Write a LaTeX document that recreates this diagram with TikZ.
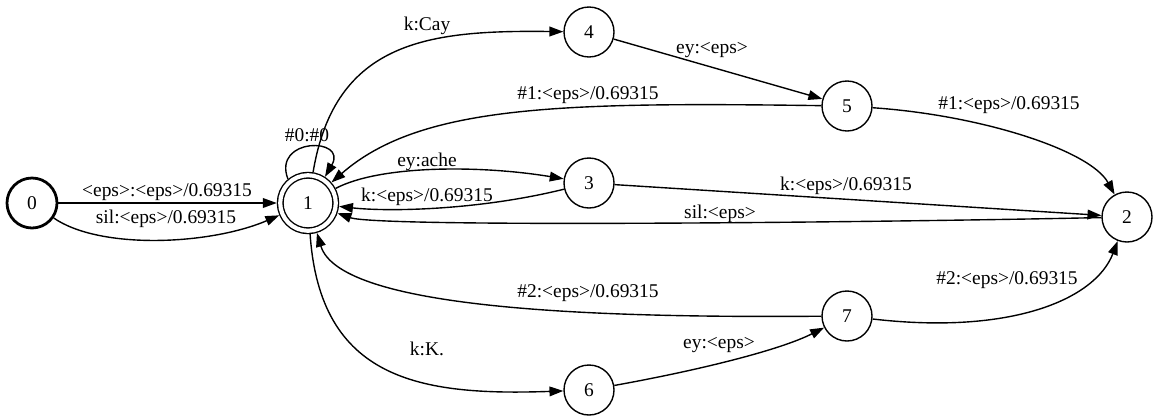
\documentclass[tikz,border=0pt]{standalone}
\usepackage{fontspec}
\setmainfont{Liberation Serif}
\usetikzlibrary{arrows.meta}
\begin{document}
\begin{tikzpicture}[x=0.72pt,y=-0.72pt,
  state/.style={circle,draw,line width=1pt,minimum size=36pt,inner sep=0pt,
    font=\fontsize{14}{16}\selectfont},
  initstate/.style={state,line width=2pt},
  finalstate/.style={state,double,double distance=3pt,minimum size=40pt,outer sep=2.5pt},
  trans/.style={draw,line width=1pt,-{Triangle[length=10pt,width=7pt]}},
  lbl/.style={font=\fontsize{14}{16}\selectfont,inner sep=0pt}]
\useasboundingbox (0,0) rectangle (1155,417);

% states
\node[initstate]  (n0) at (32,203)   {0};
\node[finalstate] (n1) at (308,203)  {1};
\node[state]      (n4) at (589,32)   {4};
\node[state]      (n3) at (589,183)  {3};
\node[state]      (n5) at (847,106)  {5};
\node[state]      (n2) at (1127,217) {2};
\node[state]      (n7) at (847,316)  {7};
\node[state]      (n6) at (589,390)  {6};

% transitions leaving 0
\draw[trans] (n0) -- (n1)
  node[lbl] (l01a) at (167,192) {<eps>:<eps>/0.69315};
\draw[trans] (n0) .. controls (100,250) and (210,245) .. (n1)
  node[lbl] (l01b) at (166,219) {sil:<eps>/0.69315};

% transitions around 1
\draw[trans] (n1.130) .. controls (272,137) and (348,137) .. (n1.57)
  node[lbl] (l11) at (307,135) {\#0:\#0};
\draw[trans] (n1) .. controls (335,40) and (430,30) .. (n4)
  node[lbl] (l14) at (427,26) {k:Cay};
\draw[trans] (n1) .. controls (380,165) and (480,165) .. (n3)
  node[lbl] (l13) at (427,162) {ey:ache};
\draw[trans] (n3) .. controls (480,210) and (390,212) .. (n1)
  node[lbl] (l31) at (427,197) {k:<eps>/0.69315};
\draw[trans] (n1) .. controls (320,380) and (420,396) .. (n6)
  node[lbl] (l16) at (427,349) {k:K.};

% upper branch
\draw[trans] (n4) -- (n5)
  node[lbl] (l45) at (712,50) {ey:<eps>};
\draw[trans] (n5) .. controls (560,102) and (420,105) .. (n1)
  node[lbl] (l51) at (588,95) {\#1:<eps>/0.69315};
\draw[trans] (n5) .. controls (980,115) and (1090,150) .. (n2)
  node[lbl] (l52) at (1009,105) {\#1:<eps>/0.69315};

% middle
\draw[trans] (n3) -- (n2)
  node[lbl] (l32) at (846,186) {k:<eps>/0.69315};
\draw[trans] (n2) .. controls (900,222) and (380,228) .. (n1)
  node[lbl] (l21) at (720,214) {sil:<eps>};

% lower branch
\draw[trans] (n6) .. controls (700,370) and (780,350) .. (n7)
  node[lbl] (l67) at (719,345) {ey:<eps>};
\draw[trans] (n7) .. controls (600,318) and (340,310) .. (n1)
  node[lbl] (l71) at (588,293) {\#2:<eps>/0.69315};
\draw[trans] (n7) .. controls (1010,335) and (1095,300) .. (n2)
  node[lbl] (l72) at (1007,280) {\#2:<eps>/0.69315};
\end{tikzpicture}
\end{document}
